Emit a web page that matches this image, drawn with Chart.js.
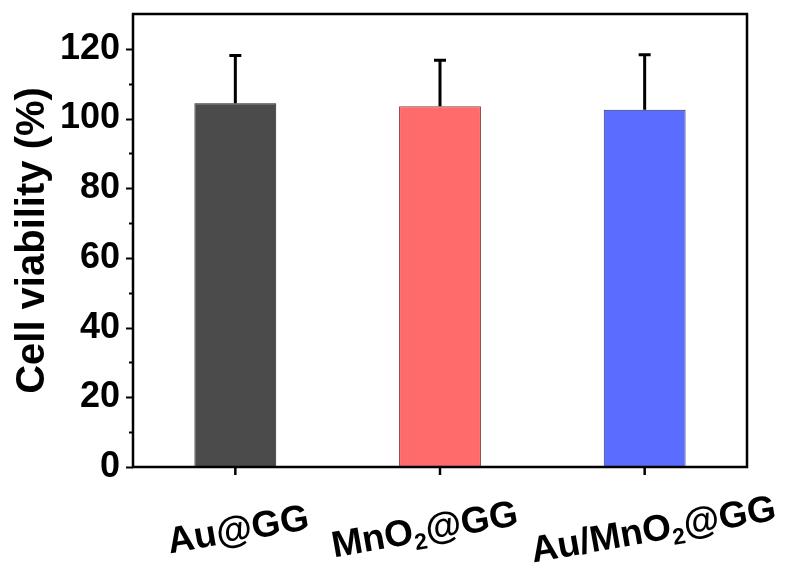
<!DOCTYPE html>
<html>
<head>
<meta charset="utf-8">
<script src="https://cdn.jsdelivr.net/npm/chart.js@4.4.1/dist/chart.umd.min.js"></script>
<style>
  html, body { margin: 0; padding: 0; background: #fff; }
</style>
</head>
<body>
<canvas id="chartViability" width="790" height="572"></canvas>
<script>
// Datos
const categories = ['Au@GG', 'MnO₂@GG', 'Au/MnO₂@GG'];
const viability = [104.4, 103.5, 102.5];
const viabilityErr = [13.7, 13.2, 15.8];
const yTicks = [0, 20, 40, 60, 80, 100, 120];
const yMinorTicks = [10, 30, 50, 70, 90, 110];
const barColors = ['#4b4b4b', '#ff6b6b', '#5b6dff'];
const barBorders = ['#1e1e1e', '#7a3b3b', '#2a2f70'];

const FONT = 'Arial, "Liberation Sans", Helvetica, sans-serif';
const labelNudge = [3, -15, 9];

// Marco, ticks, barras de error y etiquetas del eje x
const framePlugin = {
  id: 'frame',
  afterDatasetsDraw(chart) {
    const { ctx, chartArea: a, scales: { x, y } } = chart;
    ctx.save();

    // barras de error (solo hacia arriba)
    const meta = chart.getDatasetMeta(0);
    ctx.strokeStyle = '#000';
    ctx.lineWidth = 3;
    meta.data.forEach((bar, i) => {
      const top = y.getPixelForValue(viability[i] + viabilityErr[i]);
      ctx.beginPath();
      ctx.moveTo(bar.x, bar.y);
      ctx.lineTo(bar.x, top);
      ctx.moveTo(bar.x - 6, top);
      ctx.lineTo(bar.x + 6, top);
      ctx.stroke();
    });

    // marco
    ctx.lineWidth = 2.5;
    ctx.strokeRect(a.left, a.top, a.right - a.left, a.bottom - a.top);

    // ticks eje y
    ctx.lineWidth = 2;
    yTicks.forEach(v => {
      const py = Math.round(y.getPixelForValue(v)) + 0.5;
      ctx.beginPath();
      ctx.moveTo(a.left - 7, py);
      ctx.lineTo(a.left, py);
      ctx.stroke();
    });
    yMinorTicks.forEach(v => {
      const py = Math.round(y.getPixelForValue(v)) + 0.5;
      ctx.beginPath();
      ctx.moveTo(a.left - 4, py);
      ctx.lineTo(a.left, py);
      ctx.stroke();
    });

    // ticks eje x
    ctx.lineWidth = 2.5;
    categories.forEach((c, i) => {
      const px = x.getPixelForValue(i);
      ctx.beginPath();
      ctx.moveTo(px, a.bottom);
      ctx.lineTo(px, a.bottom + 8);
      ctx.stroke();
    });

    // etiquetas rotadas con subíndice
    categories.forEach((c, i) => {
      const px = x.getPixelForValue(i) + labelNudge[i];
      drawLabel(ctx, c, px, a.bottom + 64, 37);
    });

    ctx.restore();
  }
};

function drawLabel(ctx, text, cx, cy, size) {
  const mainFont = `bold ${size}px ${FONT}`;
  const subFont = `bold ${Math.round(size * 0.62)}px ${FONT}`;
  const parts = text.split('₂');
  const segs = [];
  parts.forEach((p, k) => {
    if (p) segs.push({ t: p, f: mainFont, dy: 0 });
    if (k < parts.length - 1) segs.push({ t: '2', f: subFont, dy: size * 0.3 });
  });
  let total = 0;
  segs.forEach(s => { ctx.font = s.f; s.w = ctx.measureText(s.t).width; total += s.w; });

  ctx.save();
  ctx.translate(cx, cy);
  ctx.rotate(-10 * Math.PI / 180);
  ctx.fillStyle = '#000';
  ctx.textBaseline = 'middle';
  ctx.textAlign = 'left';
  let px = -total / 2;
  segs.forEach(s => {
    ctx.font = s.f;
    ctx.fillText(s.t, px, s.dy);
    px += s.w;
  });
  ctx.restore();
}

const ctx = document.getElementById('chartViability').getContext('2d');
new Chart(ctx, {
  type: 'bar',
  data: {
    labels: categories,
    datasets: [{
      label: 'Cell viability',
      data: viability,
      backgroundColor: barColors,
      borderColor: barBorders,
      borderWidth: 1,
      categoryPercentage: 1.0,
      barPercentage: 0.4
    }]
  },
  options: {
    responsive: false,
    animation: false,
    layout: { padding: { top: 14, right: 43, bottom: 0, left: 0 } },
    plugins: {
      legend: { display: false },
      tooltip: { enabled: false }
    },
    scales: {
      x: {
        grid: { display: false },
        border: { display: false },
        ticks: { display: false },
        afterFit(scale) { scale.height = 105; }
      },
      y: {
        min: 0,
        max: 130,
        grid: { display: false },
        border: { display: false },
        ticks: {
          stepSize: 20,
          color: '#000',
          padding: 5,
          font: { family: FONT, size: 36, weight: 'bold' }
        },
        afterBuildTicks(scale) {
          scale.ticks = yTicks.map(v => ({ value: v }));
        },
        title: {
          display: true,
          text: 'Cell viability (%)',
          color: '#000',
          padding: { top: 9, bottom: 0 },
          font: { family: FONT, size: 40, weight: 'bold', lineHeight: 1.2 }
        },
        afterFit(scale) {
          scale.width = 133;
          scale.paddingTop = 0;
          scale.paddingBottom = 0;
        }
      }
    }
  },
  plugins: [framePlugin]
});
</script>
</body>
</html>
